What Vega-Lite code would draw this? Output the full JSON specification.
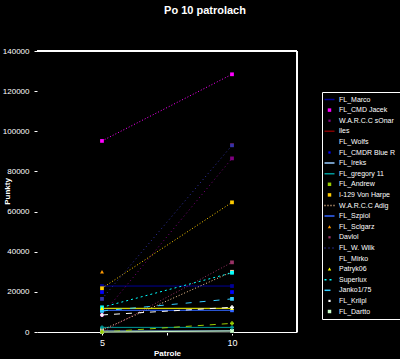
{
  "$schema": "https://vega.github.io/schema/vega-lite/v6.json",
  "width": 260,
  "height": 281,
  "autosize": "none",
  "padding": {"left": 37, "top": 51, "right": 103, "bottom": 27},
  "background": "black",
  "config": {
    "view": {"stroke": null},
    "font": "Liberation Sans",
    "axis": {
      "labelColor": "white", "labelFont": "Liberation Sans", "labelFontSize": 8,
      "tickColor": "white", "tickSize": 3, "grid": false,
      "titleColor": "white", "titleFont": "Liberation Sans", "titleFontWeight": "bold", "titleFontSize": 8,
      "domainColor": "white"
    },
    "legend": {
      "orient": "none", "legendX": 285, "legendY": 41,
      "strokeColor": "white", "padding": 4,
      "labelColor": "white", "labelFont": "Liberation Sans", "labelFontSize": 7,
      "symbolSize": 14, "rowPadding": 2.6, "labelLimit": 62, "symbolStrokeWidth": 1.5, "labelOffset": 6
    }
  },
  "title": {
    "text": "Po 10 patrolach",
    "color": "white",
    "fontSize": 11,
    "fontWeight": "bold",
    "font": "Liberation Sans",
    "anchor": "middle",
    "frame": "group",
    "dx": 38,
    "offset": 31
  },
  "data": {
    "values": [
      {"s": "FL_Marco", "p": 5, "v": 22900}, {"s": "FL_Marco", "p": 10, "v": 22900},
      {"s": "FL_CMD Jacek", "p": 5, "v": 95200}, {"s": "FL_CMD Jacek", "p": 10, "v": 128400},
      {"s": "W.A.R.C.C sOnar", "p": 5, "v": 8500}, {"s": "W.A.R.C.C sOnar", "p": 10, "v": 86500},
      {"s": "lles", "p": 10, "v": 93200},
      {"s": "FL_Wolfs", "p": 5, "v": 0}, {"s": "FL_Wolfs", "p": 10, "v": 0},
      {"s": "FL_CMDR Blue R", "p": 5, "v": 19900}, {"s": "FL_CMDR Blue R", "p": 10, "v": 19900},
      {"s": "FL_Ireks", "p": 5, "v": 500}, {"s": "FL_Ireks", "p": 10, "v": 500},
      {"s": "FL_gregory 11", "p": 5, "v": 2300}, {"s": "FL_gregory 11", "p": 10, "v": 2300},
      {"s": "FL_Andrew", "p": 5, "v": 0}, {"s": "FL_Andrew", "p": 10, "v": 4300},
      {"s": "I-129 Von Harpe", "p": 5, "v": 21800}, {"s": "I-129 Von Harpe", "p": 10, "v": 64600},
      {"s": "W.A.R.C.C Adig", "p": 5, "v": 1000}, {"s": "W.A.R.C.C Adig", "p": 10, "v": 30000},
      {"s": "FL_Szpiol", "p": 5, "v": 10800}, {"s": "FL_Szpiol", "p": 10, "v": 10800},
      {"s": "FL_Sclgarz", "p": 5, "v": 30000},
      {"s": "Davlol", "p": 5, "v": 0}, {"s": "Davlol", "p": 10, "v": 34700},
      {"s": "FL_W. Wilk", "p": 5, "v": 16500}, {"s": "FL_W. Wilk", "p": 10, "v": 93000},
      {"s": "FL_Mirko", "p": 5, "v": 0}, {"s": "FL_Mirko", "p": 10, "v": 0},
      {"s": "Patryk06", "p": 5, "v": 11800}, {"s": "Patryk06", "p": 10, "v": 11800},
      {"s": "Superlux", "p": 5, "v": 12300}, {"s": "Superlux", "p": 10, "v": 29500},
      {"s": "Janko1/75", "p": 5, "v": 10500}, {"s": "Janko1/75", "p": 10, "v": 16500},
      {"s": "FL_Krilpl", "p": 5, "v": 8500}, {"s": "FL_Krilpl", "p": 10, "v": 12300},
      {"s": "FL_Dartto", "p": 5, "v": 0}, {"s": "FL_Dartto", "p": 10, "v": 500}
    ]
  },
  "layer": [
    {
      "mark": {"type": "rule", "color": "white", "strokeWidth": 2},
      "encoding": {
        "y": {"datum": 140000, "type": "quantitative", "scale": {"domain": [0, 140000], "nice": false}, "title": "Punkty"},
        "x": {"datum": 2.5, "type": "quantitative", "scale": {"domain": [2.5, 12.5], "nice": false, "zero": false}, "title": "Patrole"},
        "x2": {"datum": 12.5}
      }
    },
    {
      "mark": {"type": "rule", "color": "white", "strokeWidth": 1},
      "encoding": {
        "x": {"datum": 12.5, "type": "quantitative", "title": "Patrole"},
        "y": {"datum": 0, "type": "quantitative", "title": "Punkty"},
        "y2": {"datum": 140000}
      }
    },
    {
      "transform": [
        {"filter": {"not": {"field": "s", "oneOf": ["FL_CMDR Blue R"]}}},
        {"calculate": "datum.s", "as": "styl"}
      ],
      "mark": {"type": "line", "strokeWidth": 1},
      "encoding": {
        "x": {
          "field": "p", "type": "quantitative", "title": "Patrole",
          "axis": {"values": [5, 7.5, 10], "labelExpr": "datum.value == 7.5 ? '' : datum.label", "labelFontSize": 9, "titlePadding": 2, "domain": true, "labelPadding": 3}
        },
        "y": {
          "field": "v", "type": "quantitative", "title": "Punkty",
          "axis": {"values": [0, 20000, 40000, 60000, 80000, 100000, 120000, 140000], "format": "d", "domain": false, "labelPadding": 5, "titleX": -30, "titleY": 140, "titleAngle": -90, "titleBaseline": "middle", "titleAlign": "center"}
        },
        "color": {
          "field": "s", "type": "nominal", "title": null,
          "scale": {
            "domain": ["FL_Marco", "FL_CMD Jacek", "W.A.R.C.C sOnar", "lles", "FL_Wolfs", "FL_CMDR Blue R", "FL_Ireks", "FL_gregory 11", "FL_Andrew", "I-129 Von Harpe", "W.A.R.C.C Adig", "FL_Szpiol", "FL_Sclgarz", "Davlol", "FL_W. Wilk", "FL_Mirko", "Patryk06", "Superlux", "Janko1/75", "FL_Krilpl", "FL_Dartto"],
            "range": ["#000099", "#ff00ff", "#800080", "#800000", "#000000", "#0000ff", "#99ccff", "#009999", "#99cc00", "#ffcc00", "#ffcc99", "#3366ff", "#ff9900", "#993366", "#3333aa", "#000000", "#ffff00", "#00ffff", "#33ccff", "#ffffff", "#ccffcc"]
          },
          "legend": {
            "symbolType": "square",
            "encode": {
              "symbols": {
                "update": {
                  "shape": {"signal": "indexof(['FL_Marco','lles','FL_Ireks','FL_gregory 11','W.A.R.C.C Adig','FL_Szpiol','FL_W. Wilk','Superlux','Janko1/75'], datum.value) >= 0 ? 'stroke' : (indexof(['FL_Sclgarz','Patryk06'], datum.value) >= 0 ? 'triangle-up' : 'square')"},
                  "size": {"signal": "indexof(['FL_Marco','lles','FL_Ireks','FL_gregory 11','W.A.R.C.C Adig','FL_Szpiol','FL_W. Wilk','Superlux','Janko1/75'], datum.value) >= 0 ? 100 : (indexof(['W.A.R.C.C sOnar','FL_CMDR Blue R','Davlol','FL_Krilpl'], datum.value) >= 0 ? 5 : 12)"},
                  "fill": {"signal": "scale('color', datum.value)"},
                  "stroke": {"signal": "scale('color', datum.value)"},
                  "strokeWidth": {"signal": "indexof(['FL_Marco','lles','FL_Ireks','FL_gregory 11','W.A.R.C.C Adig','FL_Szpiol','FL_W. Wilk','Superlux','Janko1/75'], datum.value) >= 0 ? 1.5 : 0"},
                  "opacity": {"value": 1}
                }
              }
            }
          }
        },
        "strokeDash": {
          "field": "styl", "type": "nominal", "legend": null,
          "scale": {
            "domain": ["FL_Marco", "FL_CMD Jacek", "W.A.R.C.C sOnar", "lles", "FL_Wolfs", "FL_CMDR Blue R", "FL_Ireks", "FL_gregory 11", "FL_Andrew", "I-129 Von Harpe", "W.A.R.C.C Adig", "FL_Szpiol", "FL_Sclgarz", "Davlol", "FL_W. Wilk", "FL_Mirko", "Patryk06", "Superlux", "Janko1/75", "FL_Krilpl", "FL_Dartto"],
            "range": [[1,0],[1,2],[1,3],[1,0],[1,0],[1,0],[1,0],[1,0],[6,6],[1,2],[1,2],[1,0],[1,0],[1,2],[1,3],[1,0],[1,0],[2,3],[6,8],[6,6],[1,0]]
          }
        }
      }
    },
    {
      "transform": [{"filter": {"field": "s", "oneOf": ["FL_CMD Jacek", "W.A.R.C.C sOnar", "FL_Wolfs", "FL_CMDR Blue R", "FL_Ireks", "I-129 Von Harpe", "W.A.R.C.C Adig", "FL_Szpiol", "Davlol", "FL_W. Wilk", "FL_Mirko", "Superlux", "Janko1/75", "FL_Dartto", "lles", "FL_Marco"]}}],
      "mark": {"type": "point", "filled": true, "size": 14, "opacity": 1, "shape": "square"},
      "encoding": {
        "x": {"field": "p", "type": "quantitative", "title": "Patrole"},
        "y": {"field": "v", "type": "quantitative", "title": "Punkty"},
        "color": {"field": "s", "type": "nominal", "title": null}
      }
    },
    {
      "transform": [{"filter": {"field": "s", "oneOf": ["FL_Sclgarz", "Patryk06"]}}],
      "mark": {"type": "point", "filled": true, "size": 16, "opacity": 1, "shape": "triangle-up"},
      "encoding": {
        "x": {"field": "p", "type": "quantitative", "title": "Patrole"},
        "y": {"field": "v", "type": "quantitative", "title": "Punkty"},
        "color": {"field": "s", "type": "nominal", "title": null}
      }
    },
    {
      "transform": [{"filter": {"field": "s", "oneOf": ["FL_gregory 11", "FL_Andrew", "FL_Krilpl"]}}],
      "mark": {"type": "point", "filled": true, "size": 16, "opacity": 1, "shape": "cross"},
      "encoding": {
        "x": {"field": "p", "type": "quantitative", "title": "Patrole"},
        "y": {"field": "v", "type": "quantitative", "title": "Punkty"},
        "color": {"field": "s", "type": "nominal", "title": null}
      }
    }
  ]
}
